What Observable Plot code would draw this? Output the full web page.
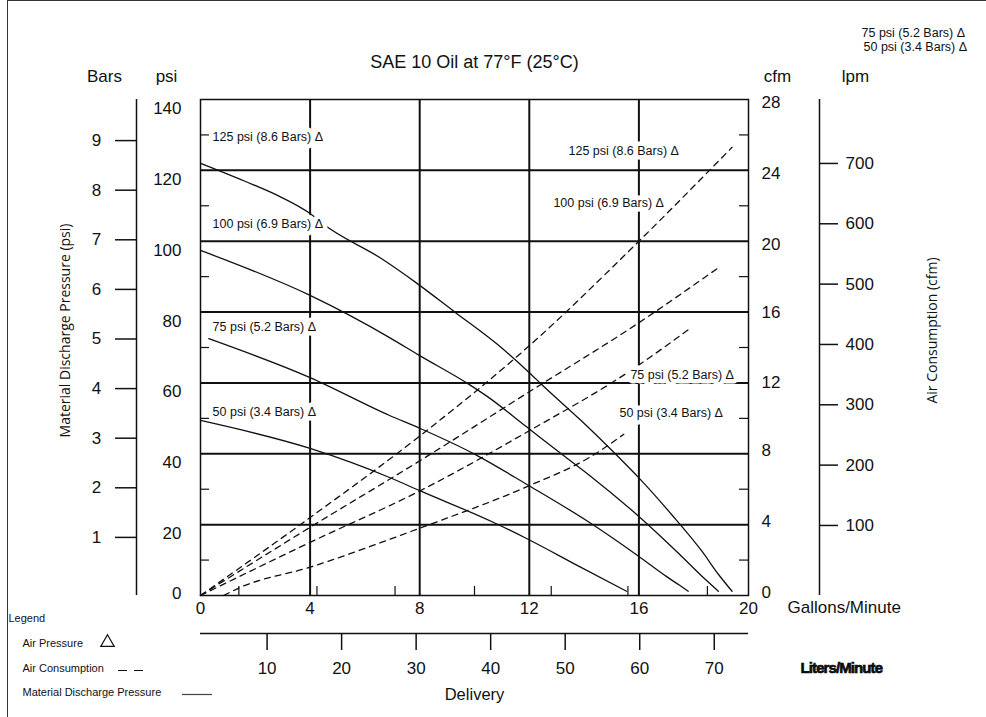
<!DOCTYPE html>
<html><head><meta charset="utf-8">
<script src="https://cdn.jsdelivr.net/npm/d3@7"></script>
<script src="https://cdn.jsdelivr.net/npm/@observablehq/plot@0.6"></script>
<style>
body{margin:0;background:#fff;}
#wrap{position:relative;width:986px;height:717px;overflow:hidden;background:#fff;}
#border{position:absolute;left:7px;top:0;width:979px;height:717px;border-left:1.5px solid #333;border-top:1.5px solid #333;pointer-events:none;box-sizing:border-box;}
</style></head><body>
<div id="wrap"><div id="chart"></div><div id="border"></div></div>
<script>
// ---- tick values ----
const gallonTicks = [0, 4, 8, 12, 16, 20];
const gallonGrid = [4, 8, 12, 16];
const psiTicks = [20, 40, 60, 80, 100, 120, 140];
const psiGrid = [20, 40, 60, 80, 100, 120];
const psiMinor = [10, 30, 50, 70, 90, 110, 130];
const cfmTicksUpper = [20, 24, 28];
const cfmTicksMiddle = [12, 16];
const cfmTicksLower = [0, 4, 8];
const cfmMinor = [2, 6, 10, 14, 18, 22, 26];
const barTicks = [1, 2, 3, 4, 5, 6, 7, 8, 9];
const lpmAirTicks = [100, 200, 300, 400, 500, 600, 700];
const lpmDeliveryTicks = [10, 20, 30, 40, 50, 60, 70];
const deliveryMinor = [1.4, 4.25, 7.1, 10.0, 12.8, 15.6, 18.5];

// ---- secondary scales as printed on the chart ----
const cfmToPsi = 5;                 // 28 cfm <-> 140 psi
const psiPerBar = 14.0, barOffset = 2.4;
const psiPerLpmAir = 0.1703, lpmAirOffset = 2.74;
const galPerLpm = 0.272, lpmFirstGal = 2.43;

// ---- material discharge pressure (gal/min, psi) ----
const discharge125 = [[0,122],[1.6,117],[2.9,112.6],[4.0,107.8],[4.5,104.7],[6.6,95.1],[7.9,88.1],[9.3,79.9],[10.8,71.1],[12.0,62.9],[12.5,59.2],[13.9,49.3],[15.1,40.3],[16.0,33.2],[17.2,22.8],[18.3,12.5],[18.9,6.0],[19.4,1.2]];
const discharge100 = [[0,97.4],[4.0,84.7],[6.9,72.8],[8.0,67.7],[9.8,59.6],[10.5,56.0],[11.9,47.6],[13.2,39.8],[14.2,33.9],[16.0,22.3],[17.5,11.5],[18.4,4.7],[18.9,1.2]];
const discharge75 = [[0.3,72.5],[4.0,61.5],[6.9,50.8],[8.0,47.2],[10.1,39.5],[11.9,31.4],[14.2,20.6],[15.95,11.3],[17.0,5.4],[17.5,2.8],[17.8,1.2]];
const discharge50 = [[0,49.4],[4.0,41.5],[6.9,33.3],[8.0,29.6],[10.7,20.6],[11.9,16.1],[13.8,8.3],[15.55,1.2]];

// ---- air consumption (gal/min, cfm) ----
const air125 = [[0,0],[4,4.4],[8,9.0],[12,14.1],[16,20.0],[19.4,25.3]];
const air100 = [[0,0],[4,3.85],[8,7.6],[12,11.5],[16,15.4],[18.9,18.5]];
const air75 = [[0,0],[4,3.0],[8,5.9],[12,9.3],[15.7,12.7],[17.8,15.0]];
const air50 = [[0.85,0],[1.4,0.42],[4,1.6],[8,3.8],[12,6.2],[14.2,7.8],[15.45,9.1]];

const seriesNames = ["125 psi (8.6 Bars) Δ", "100 psi (6.9 Bars) Δ", "75 psi (5.2 Bars) Δ", "50 psi (3.4 Bars) Δ"];
const dischargeSeries = [discharge125, discharge100, discharge75, discharge50];
const airSeries = [air125, air100, air75, air50];

// curve label annotations (gal, psi)
const leftLabelGal = [0.44, 0.44, 0.44, 0.44];
const leftLabelPsi = [129.4, 105.0, 75.7, 51.7];
const rightLabelGal = [13.43, 12.88, 15.69, 15.29];
const rightLabelPsi = [125.6, 110.9, 62.1, 51.4];

const dischargeRows = dischargeSeries.flatMap((s, i) => s.map(([gal, psi]) => ({series: seriesNames[i], gal, psi})));
const airRows = airSeries.flatMap((s, i) => s.map(([gal, cfm]) => ({series: seriesNames[i], gal, cfm})));
const labelRows = seriesNames.flatMap((t, i) => [
  {text: t, gal: leftLabelGal[i], psi: leftLabelPsi[i]},
  {text: t, gal: rightLabelGal[i], psi: rightLabelPsi[i]}
]);

const ink = "#111";
const openSans = "'Open Sans', 'Noto Sans', sans-serif";
const barY = b => b * psiPerBar + barOffset;
const lpmAirY = l => l * psiPerLpmAir + lpmAirOffset;
const lpmDelX = l => lpmFirstGal + (l - 10) * galPerLpm;
const T = {lineAnchor: "middle"};
const cfmLabel = (ticks, dy) => Plot.text(ticks, {...T, frameAnchor: "right", y: d => d * cfmToPsi, text: d => String(d), textAnchor: "start", dx: 13, dy});

const chart = Plot.plot({
  width: 986, height: 717,
  marginLeft: 200, marginRight: 238, marginTop: 99, marginBottom: 122,
  x: {domain: [0, 20], axis: null},
  y: {domain: [0, 140], axis: null},
  style: {fontFamily: "'Liberation Sans', Arial, Helvetica, sans-serif", fontSize: "17px", color: ink, background: "#fff", overflow: "visible"},
  marks: [
    // grid
    Plot.ruleY(psiGrid, {stroke: ink, strokeWidth: 2}),
    Plot.ruleX(gallonGrid, {stroke: ink, strokeWidth: 2}),
    // curves
    Plot.line(dischargeRows, {x: "gal", y: "psi", z: "series", curve: "monotone-x", stroke: ink, strokeWidth: 1.3}),
    Plot.line(airRows, {x: "gal", y: d => d.cfm * cfmToPsi, z: "series", curve: "monotone-x", stroke: ink, strokeWidth: 1.3, strokeDasharray: "6,5"}),
    // curve labels with white box
    Plot.text(labelRows, {x: "gal", y: "psi", text: "text", textAnchor: "start", fontSize: 12.5, fill: "#fff", stroke: "#fff", strokeWidth: 9, strokeLinejoin: "round"}),
    Plot.text(labelRows, {x: "gal", y: "psi", text: "text", textAnchor: "start", fontSize: 12.5, fill: ink}),
    // frame + inner ticks
    Plot.frame({stroke: ink, strokeWidth: 1.5}),
    Plot.ruleY(psiMinor, {x1: 0, x2: 0, insetRight: -9, stroke: ink, strokeWidth: 1.2}),
    Plot.ruleY(cfmMinor, {y: c => c * cfmToPsi, x1: 20, x2: 20, insetLeft: -9, stroke: ink, strokeWidth: 1.2}),
    Plot.ruleX(deliveryMinor, {y1: 0, y2: 0, insetTop: -9, stroke: ink, strokeWidth: 1.2}),
    // psi axis labels
    Plot.text(psiTicks, {...T, frameAnchor: "left", y: d => d, text: d => String(d), textAnchor: "end", dx: -19, dy: 9}),
    Plot.text([0], {...T, frameAnchor: "left", y: d => d, text: d => String(d), textAnchor: "end", dx: -19, dy: -2}),
    // cfm axis labels
    cfmLabel(cfmTicksUpper, 3),
    cfmLabel(cfmTicksMiddle, 0),
    cfmLabel(cfmTicksLower, -3),
    // Bars axis
    Plot.ruleX([0], {y1: 0, y2: 140, dx: -64, stroke: ink, strokeWidth: 1.5}),
    Plot.ruleY(barTicks, {y: barY, x1: 0, x2: 0, dx: -64, insetLeft: -21, stroke: ink, strokeWidth: 1.5}),
    Plot.text(barTicks, {...T, frameAnchor: "left", y: barY, text: d => String(d), textAnchor: "middle", dx: -104}),
    // lpm (air) axis
    Plot.ruleX([20], {y1: 0, y2: 140, dx: 71, stroke: ink, strokeWidth: 1.5}),
    Plot.ruleY(lpmAirTicks, {y: lpmAirY, x1: 20, x2: 20, dx: 71, insetRight: -19, stroke: ink, strokeWidth: 1.5}),
    Plot.text(lpmAirTicks, {...T, frameAnchor: "right", y: lpmAirY, text: d => String(d), textAnchor: "start", dx: 97}),
    // gallons labels
    Plot.text(gallonTicks, {...T, x: d => d, frameAnchor: "bottom", textAnchor: "middle", dy: 13, text: d => String(d)}),
    Plot.text(["Gallons/Minute"], {...T, frameAnchor: "bottom-right", textAnchor: "start", dx: 39, dy: 12, text: d => d}),
    // liters/minute delivery axis
    Plot.ruleY([0], {x1: 0, x2: 20, dy: 38, stroke: ink, strokeWidth: 1.5}),
    Plot.ruleX(lpmDeliveryTicks, {x: lpmDelX, y1: 0, y2: 0, dy: 38, insetBottom: -17, stroke: ink, strokeWidth: 1.5}),
    Plot.text(lpmDeliveryTicks, {...T, x: lpmDelX, frameAnchor: "bottom", textAnchor: "middle", dy: 73, text: d => String(d)}),
    Plot.text(["Liters/Minute"], {...T, frameAnchor: "bottom-right", textAnchor: "start", dx: 52, dy: 73, text: d => d, fontSize: 15, fontWeight: "bold"}),
    Plot.text(["Delivery"], {...T, frameAnchor: "bottom", textAnchor: "middle", dy: 99, text: d => d, fontSize: 16.5}),
    // titles
    Plot.text(["SAE 10 Oil at 77°F (25°C)"], {...T, frameAnchor: "top", textAnchor: "middle", dy: -37, text: d => d, fontSize: 18}),
    Plot.text(["Bars"], {...T, frameAnchor: "top-left", textAnchor: "middle", dx: -96, dy: -23, text: d => d}),
    Plot.text(["psi"], {...T, frameAnchor: "top-left", textAnchor: "middle", dx: -34, dy: -23, text: d => d}),
    Plot.text(["cfm"], {...T, frameAnchor: "top-right", textAnchor: "middle", dx: 29, dy: -23, text: d => d}),
    Plot.text(["lpm"], {...T, frameAnchor: "top-right", textAnchor: "middle", dx: 107, dy: -23, text: d => d}),
    Plot.text(["Material Discharge Pressure (psi)"], {...T, frameAnchor: "left", textAnchor: "middle", dx: -135, dy: -17, rotate: -90, text: d => d, fontSize: 14, fontFamily: openSans}),
    Plot.text(["Air Consumption (cfm)"], {...T, frameAnchor: "right", textAnchor: "middle", dx: 184, dy: -17, rotate: -90, text: d => d, fontSize: 14, fontFamily: openSans}),
    // stray labels top right
    Plot.text(["75 psi (5.2 Bars) Δ"], {...T, frameAnchor: "top-right", textAnchor: "start", dx: 113, dy: -67, text: d => d, fontSize: 12.5}),
    Plot.text(["50 psi (3.4 Bars) Δ"], {...T, frameAnchor: "top-right", textAnchor: "start", dx: 115, dy: -53, text: d => d, fontSize: 12.5}),
    // legend
    Plot.text(["Legend"], {...T, frameAnchor: "bottom-left", textAnchor: "start", dx: -192, dy: 23, text: d => d, fontSize: 11}),
    Plot.text(["Air Pressure"], {...T, frameAnchor: "bottom-left", textAnchor: "start", dx: -178, dy: 48, text: d => d, fontSize: 11}),
    Plot.dot([0], {x: 0, y: 0, dx: -93, dy: 47, symbol: "triangle", r: 5, stroke: ink, fill: "none", strokeWidth: 1.2}),
    Plot.text(["Air Consumption"], {...T, frameAnchor: "bottom-left", textAnchor: "start", dx: -178, dy: 73, text: d => d, fontSize: 11}),
    Plot.ruleY([0], {x1: 0, x2: 0, dx: -82, dy: 75, insetRight: -25, stroke: ink, strokeWidth: 1.2, strokeDasharray: "9,7"}),
    Plot.text(["Material Discharge Pressure"], {...T, frameAnchor: "bottom-left", textAnchor: "start", dx: -178, dy: 97, text: d => d, fontSize: 11}),
    Plot.ruleY([0], {x1: 0, x2: 0, dx: -18, dy: 99, insetRight: -30, stroke: "#444", strokeWidth: 1.2})
  ]
});

d3.select(chart).selectAll("text").filter(function() { return this.textContent === "Liters/Minute"; })
  .attr("letter-spacing", "-0.9").attr("stroke", "#000").attr("stroke-width", "0.6");
document.getElementById("chart").appendChild(chart);
</script>
</body></html>
